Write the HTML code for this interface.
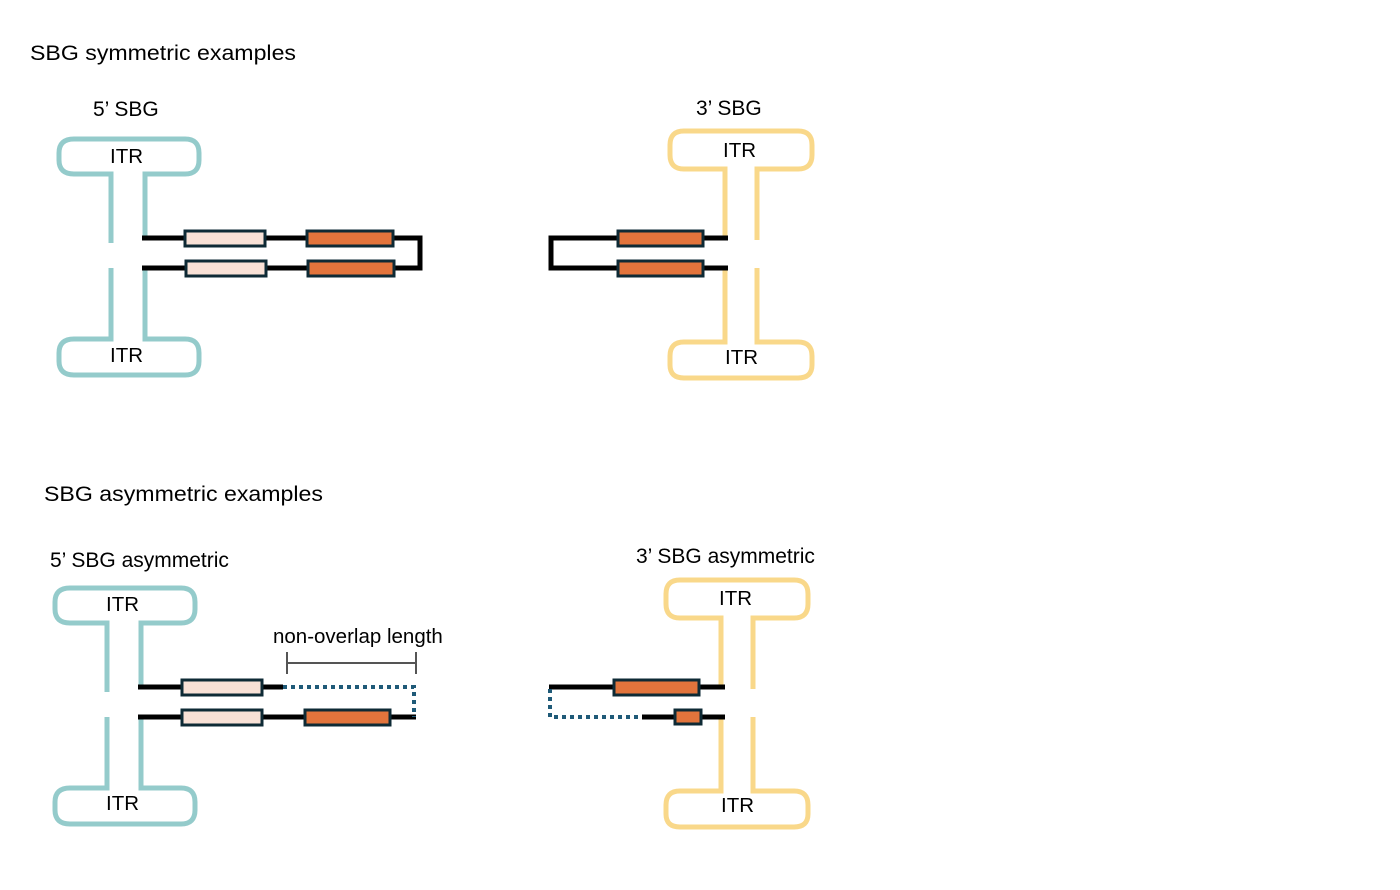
<!DOCTYPE html>
<html><head><meta charset="utf-8"><style>
html,body{margin:0;padding:0;background:#fff;}
svg{display:block;}
text{font-family:"Liberation Sans",Arial,sans-serif;fill:#000;}
</style></head><body>
<svg width="1400" height="890" viewBox="0 0 1400 890" xmlns="http://www.w3.org/2000/svg">
<defs>
<g id="teal" fill="none" stroke="#94CBCB" stroke-width="5">
<path d="M111,243 V174 H74 Q59,174 59,160 V153 Q59,139 74,139 H185 Q199,139 199,153 V160 Q199,174 185,174 H145 V238"/>
<path d="M111,268 V339 H74 Q59,339 59,353 V361 Q59,375 74,375 H185 Q199,375 199,361 V353 Q199,339 185,339 H145 V270"/>
</g>
<g id="yel" fill="none" stroke="#F9D88A" stroke-width="5">
<path d="M757,240 V169 H798 Q812,169 812,155 V145 Q812,131 798,131 H684 Q670,131 670,145 V155 Q670,169 684,169 H725 V238"/>
<path d="M757,268 V342 H798 Q812,342 812,356 V365 Q812,378 798,378 H684 Q670,378 670,365 V356 Q670,342 684,342 H725 V268"/>
</g>
</defs>

<text x="30" y="60" font-size="21" textLength="266" lengthAdjust="spacingAndGlyphs">SBG symmetric examples</text>
<text x="93" y="116" font-size="21">5’ SBG</text>
<text x="696" y="115" font-size="21">3’ SBG</text>

<use href="#teal"/>
<text x="110" y="163" font-size="20.5">ITR</text>
<text x="110" y="362" font-size="20.5">ITR</text>
<g stroke="#000" stroke-width="5" fill="none">
<path d="M142,238 H420 V268 H142"/>
</g>
<g stroke="#0E2A35" stroke-width="3">
<rect x="185" y="231" width="80" height="15" fill="#F8E1D6"/>
<rect x="307" y="231" width="86" height="15" fill="#E2743C"/>
<rect x="186" y="261" width="80" height="15" fill="#F8E1D6"/>
<rect x="308" y="261" width="86" height="15" fill="#E2743C"/>
</g>

<use href="#yel"/>
<text x="723" y="157" font-size="20.5">ITR</text>
<text x="725" y="364" font-size="20.5">ITR</text>
<path d="M728,238 H551 V268 H728" stroke="#000" stroke-width="5" fill="none"/>
<g stroke="#0E2A35" stroke-width="3" fill="#E2743C">
<rect x="618" y="231" width="85" height="15"/>
<rect x="618" y="261" width="85" height="15"/>
</g>

<text x="44" y="501" font-size="21" textLength="279" lengthAdjust="spacingAndGlyphs">SBG asymmetric examples</text>
<text x="50" y="567" font-size="21">5’ SBG asymmetric</text>
<text x="636" y="563" font-size="21">3’ SBG asymmetric</text>

<use href="#teal" transform="translate(-4,449)"/>
<text x="106" y="611" font-size="20.5">ITR</text>
<text x="106" y="810" font-size="20.5">ITR</text>
<g stroke="#000" stroke-width="5" fill="none">
<path d="M138,687 H283"/>
<path d="M138,717 H416"/>
</g>
<path d="M283,687 H414 V717" stroke="#1F5A78" stroke-width="4" stroke-dasharray="4,4" fill="none"/>
<g stroke="#0E2A35" stroke-width="3">
<rect x="182" y="680" width="80" height="15" fill="#F8E1D6"/>
<rect x="182" y="710" width="80" height="15" fill="#F8E1D6"/>
<rect x="305" y="710" width="85" height="15" fill="#E2743C"/>
</g>
<g stroke="#555" stroke-width="2" fill="none">
<path d="M287,663 H416 M287,652 V674 M416,652 V674"/>
</g>
<text x="273" y="643" font-size="20.5">non-overlap length</text>

<use href="#yel" transform="translate(-4,449)"/>
<text x="719" y="605" font-size="20.5">ITR</text>
<text x="721" y="812" font-size="20.5">ITR</text>
<g stroke="#000" stroke-width="5" fill="none">
<path d="M549,687 H725"/>
<path d="M642,717 H725"/>
</g>
<path d="M550,689 V717 H640" stroke="#1F5A78" stroke-width="4" stroke-dasharray="4,4" fill="none"/>
<g stroke="#0E2A35" stroke-width="3" fill="#E2743C">
<rect x="614" y="680" width="85" height="15"/>
<rect x="675" y="710" width="26" height="14"/>
</g>
</svg>
</body></html>
